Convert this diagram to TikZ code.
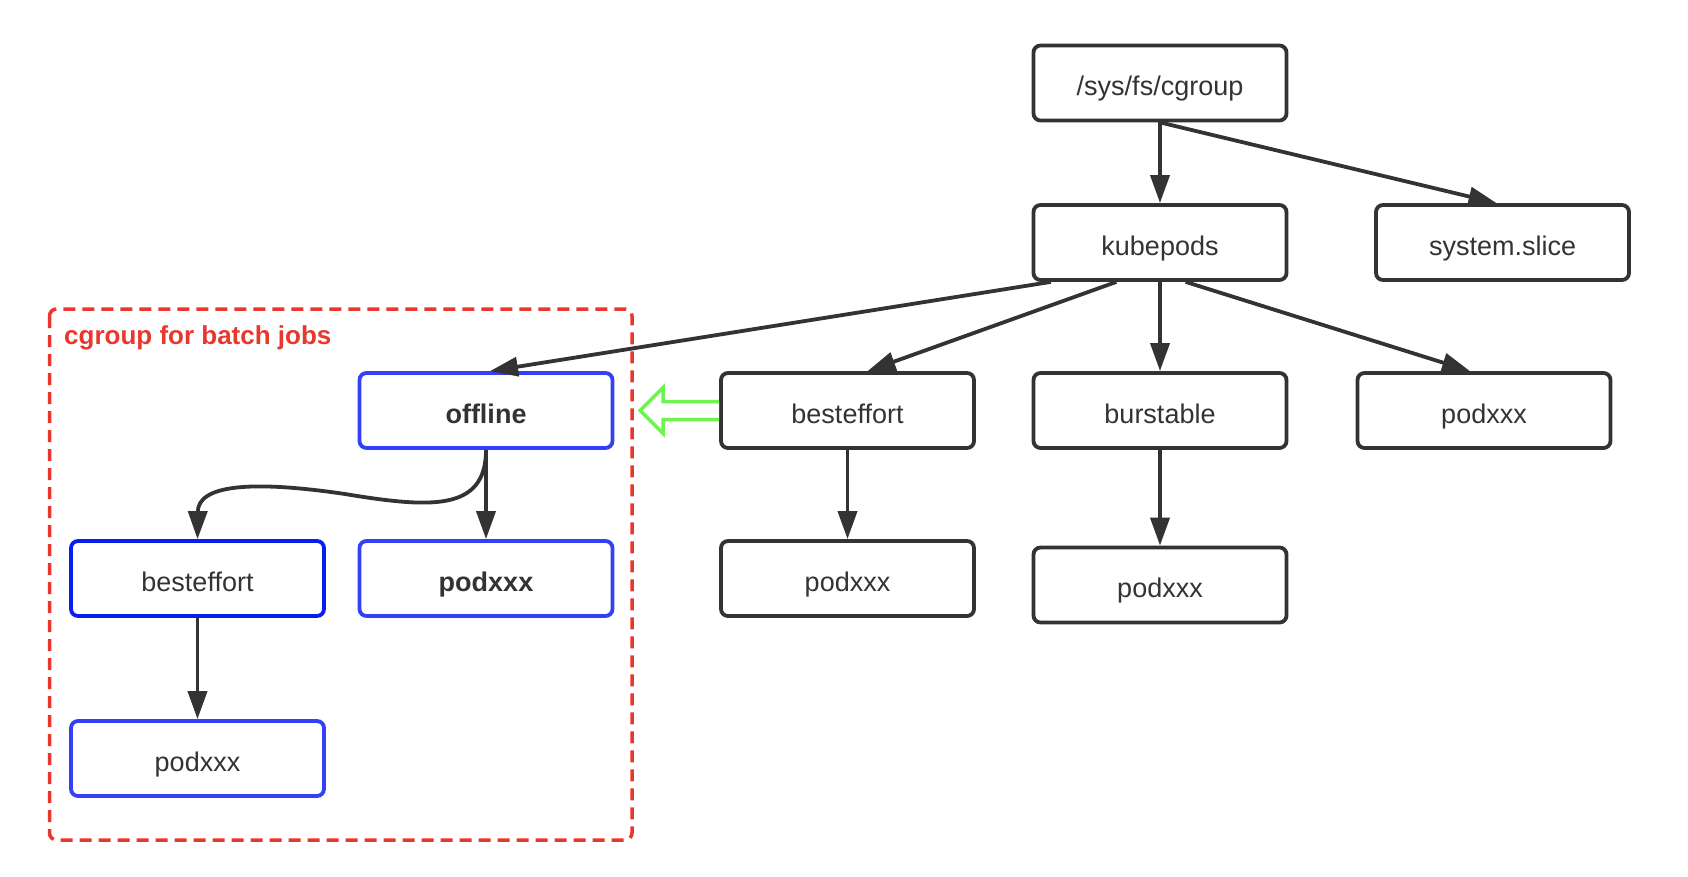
\documentclass[tikz,border=0pt]{standalone}
\usepackage{fontspec}
\setmainfont{Liberation Sans}
\usetikzlibrary{arrows.meta,calc}
\definecolor{ink}{HTML}{333333}
\definecolor{blueA}{HTML}{3340F5}
\definecolor{blueB}{HTML}{0A1EEB}
\definecolor{redD}{HTML}{E8372C}
\definecolor{greenA}{HTML}{6CF54E}
\tikzset{
  box/.style={draw=ink, line width=3.8pt, rounded corners=7pt, minimum width=253pt, minimum height=75pt,
    inner sep=0pt, text=ink, text height=25pt, text depth=0pt, font=\fontsize{27}{30}\selectfont},
  bbox/.style={box, draw=blueA},
  bboxd/.style={box, draw=blueB},
  conn/.style={draw=ink, line width=3.8pt, -{Triangle[length=28pt, width=19pt]}},
}
\begin{document}
\begin{tikzpicture}[x=1pt, y=-1pt]
\useasboundingbox (0,0) rectangle (1688,876);
% group
\draw[redD, line width=3.5pt, dash pattern=on 12pt off 7pt, rounded corners=7pt] (49.5,309) rectangle (632,840);
\node[anchor=west, text=redD, font=\fontsize{26}{28}\selectfont\bfseries, inner sep=0pt] (lbl) at (64,338) {cgroup for batch jobs};
% nodes
\node[box] (sys) at (1160,83) {/sys/fs/cgroup};
\node[box] (kube) at (1160,242.5) {kubepods};
\node[box] (slice) at (1502.5,242.5) {system.slice};
\node[bbox, font=\fontsize{27}{30}\selectfont\bfseries] (off) at (486,410.5) {offline};
\node[box] (be) at (847.5,410.5) {besteffort};
\node[box] (bu) at (1160,410.5) {burstable};
\node[box] (pr) at (1484,410.5) {podxxx};
\node[bboxd] (beL) at (197.5,578.5) {besteffort};
\node[bbox, font=\fontsize{27}{30}\selectfont\bfseries] (pb) at (486,578.5) {podxxx};
\node[box] (pbe) at (847.5,578.5) {podxxx};
\node[box] (pbu) at (1160,585) {podxxx};
\node[bbox] (pL) at (197.5,758.5) {podxxx};
% connectors
\draw[conn] (sys.south) -- (kube.north);
\draw[conn] (sys.south) -- ($(slice.north)+(-6,0)$);
\draw[conn] ($(kube.south west)!0.075!(kube.south east)$) -- ($(off.north)+(4,0)$);
\draw[conn] ($(kube.south west)!0.33!(kube.south east)$) -- ($(be.north)+(20,0)$);
\draw[conn] (kube.south) -- (bu.north);
\draw[conn] ($(kube.south west)!0.6!(kube.south east)$) -- ($(pr.north)+(-14,0)$);
\draw[conn] (be.south) -- (pbe.north);
\draw[conn] (bu.south) -- (pbu.north);
\draw[conn] (off.south) -- (pb.north);
\coordinate (mid) at (345,494);
\draw[conn] (off.south) .. controls ($(off.south)+(0,62)$) and (430,508) .. (mid)
  .. controls (250,480) and (198,485) .. (beL.north);
\draw[conn] (beL.south) -- (pL.north);
% hollow green arrow
\draw[greenA, line width=3.5pt, fill=white, line join=miter]
  ($(be.west)+(0,-9)$) -- ++(-56,0) -- ++(0,-14) -- ++(-23,23) -- ++(23,23) -- ++(0,-14) -- ++(56,0);
\end{tikzpicture}
\end{document}
